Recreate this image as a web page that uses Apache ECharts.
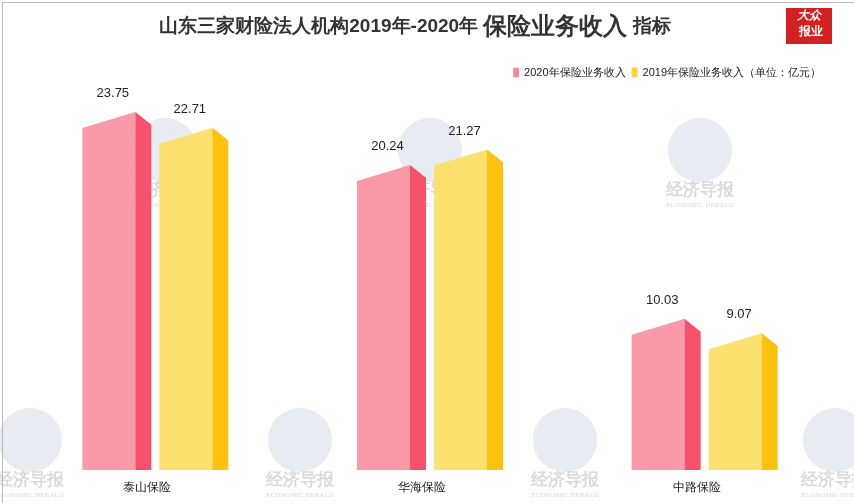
<!DOCTYPE html>
<html><head><meta charset="utf-8">
<script src="https://cdn.jsdelivr.net/npm/echarts@6/dist/echarts.min.js"></script>
<style>html,body{margin:0;background:#fff}#c{width:854px;height:503px}</style>
</head><body><div id="c"></div>
<script>
const categories = ["泰山保险", "华海保险", "中路保险"];
const income2020 = [23.75, 20.24, 10.03];
const income2019 = [22.71, 21.27, 9.07];

const chart = echarts.init(document.getElementById("c"));

// 3D 柱子：正面 + 侧面，顶部有斜坡
const bar3d = (offset, light, dark) => (params, api) => {
  const i = api.value(0);
  const base = api.coord([i, 0]);
  const top = api.coord([i, api.value(1)]);
  const x0 = base[0] + offset, wf = 53, ws = 16, drop = 16;
  const front = [[x0, base[1]], [x0, top[1] + drop], [x0 + wf, top[1]], [x0 + wf, base[1]]];
  const side = [[x0 + wf, base[1]], [x0 + wf, top[1]], [x0 + wf + ws, top[1] + drop * 0.8], [x0 + wf + ws, base[1]]];
  return {
    type: "group",
    children: [
      { type: "polygon", shape: { points: front }, style: { fill: light } },
      { type: "polygon", shape: { points: side }, style: { fill: dark } },
      { type: "text", style: { text: api.value(1).toFixed(2), x: x0 + wf / 2 + 4, y: top[1] - 12,
        textAlign: "center", textVerticalAlign: "bottom", fill: "#222", font: "13px sans-serif" } }
    ]
  };
};

const watermarks = [[165, 150], [430, 150], [700, 150], [30, 440], [300, 440], [565, 440], [835, 440]].map(p => ({
  type: "group", x: p[0], y: p[1], silent: true, z: 10,
  children: [
    { type: "circle", shape: { cx: 0, cy: 0, r: 32 }, style: { fill: "rgba(160,180,205,0.25)" } },
    { type: "text", style: { text: "经济导报", x: 0, y: 32, textAlign: "center", fill: "rgba(150,150,150,0.35)", font: "bold 17px serif" } },
    { type: "text", style: { text: "ECONOMIC HERALD", x: 0, y: 52, textAlign: "center", fill: "rgba(150,150,150,0.35)", font: "7px serif" } }
  ]
}));

chart.setOption({
  backgroundColor: "#fff",
  title: {
    text: "{a|山东三家财险法人机构2019年-2020年 }{b|保险业务收入}{a| 指标}",
    left: 410, top: 10, textAlign: "center",
    textStyle: { rich: {
      a: { fontSize: 19, fontWeight: "bold", color: "#333" },
      b: { fontSize: 24, fontWeight: "bold", color: "#333" }
    } }
  },
  legend: {
    right: 28, top: 62, itemWidth: 6, itemHeight: 10, itemGap: 6,
    textStyle: { fontSize: 11, color: "#222" },
    data: [
      { name: "2020年保险业务收入", itemStyle: { color: "#f9889a" } },
      { name: "2019年保险业务收入（单位：亿元）", itemStyle: { color: "#fdd23a" } }
    ]
  },
  grid: { left: 10, right: 20, top: 48, bottom: 33 },
  xAxis: { type: "category", data: categories, axisLine: { show: false }, axisTick: { show: false },
    axisLabel: { color: "#222", fontSize: 12, margin: 12 } },
  yAxis: { type: "value", min: 0, max: 28, show: false },
  series: [
    { name: "2020年保险业务收入", type: "custom", data: income2020.map((v, i) => [i, v]),
      itemStyle: { color: "#f9889a" }, renderItem: bar3d(-65, "#fa9aa8", "#f7526c") },
    { name: "2019年保险业务收入（单位：亿元）", type: "custom", data: income2019.map((v, i) => [i, v]),
      itemStyle: { color: "#fdd23a" }, renderItem: bar3d(12, "#fde170", "#fcc20f") }
  ],
  graphic: watermarks.concat([
    { type: "rect", right: 22, top: 8, shape: { width: 46, height: 36 }, style: { fill: "#d32020" } },
    { type: "text", right: 33, top: 10, style: { text: "大众", fill: "#fff", font: "italic bold 12px serif" } },
    { type: "text", right: 31, top: 26, style: { text: "报业", fill: "#fff", font: "bold 12px sans-serif" } },
    { type: "rect", left: 0, top: 0, shape: { width: 853, height: 502 }, style: { fill: "none", stroke: "#bbb" } }
  ])
});
</script></body></html>
